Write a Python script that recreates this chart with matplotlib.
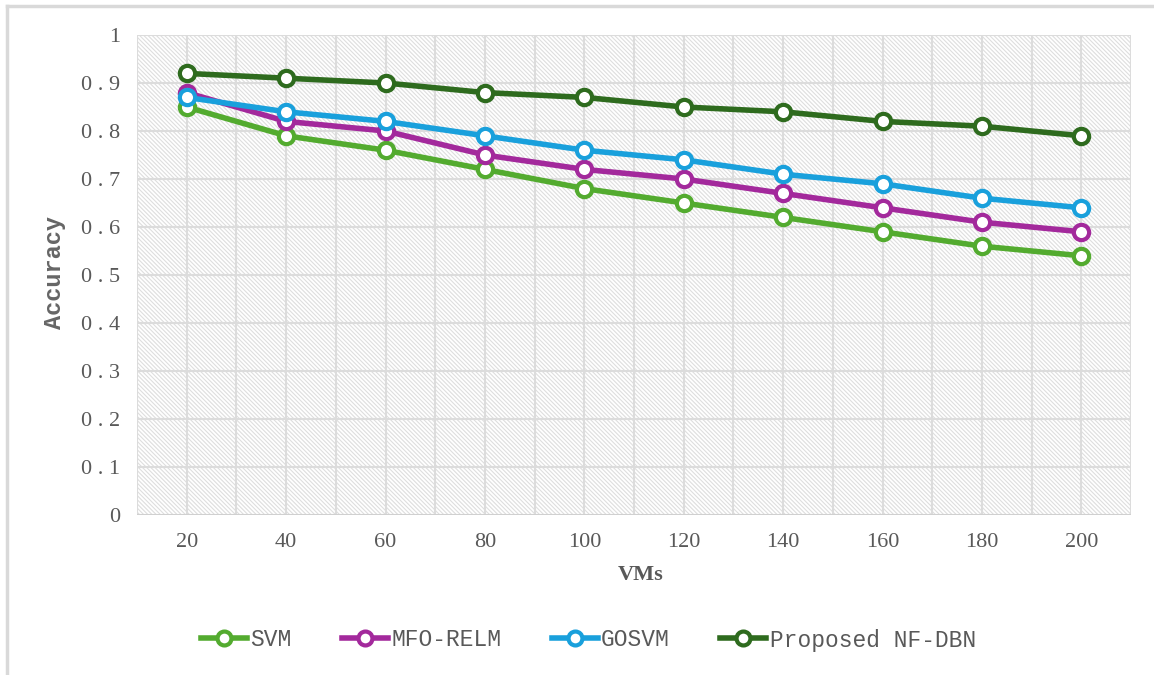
import numpy as np
import matplotlib.pyplot as plt
from matplotlib.patches import Rectangle
from matplotlib.lines import Line2D

# ---------- data ----------
vms = [20, 40, 60, 80, 100, 120, 140, 160, 180, 200]
svm = [0.85, 0.79, 0.76, 0.72, 0.68, 0.65, 0.62, 0.59, 0.56, 0.54]
mfo_relm = [0.88, 0.82, 0.80, 0.75, 0.72, 0.70, 0.67, 0.64, 0.61, 0.59]
gosvm = [0.87, 0.84, 0.82, 0.79, 0.76, 0.74, 0.71, 0.69, 0.66, 0.64]
nf_dbn = [0.92, 0.91, 0.90, 0.88, 0.87, 0.85, 0.84, 0.82, 0.81, 0.79]
series_names = ["SVM", "MFO-RELM", "GOSVM", "Proposed NF-DBN"]
y_ticks = [0, 0.1, 0.2, 0.3, 0.4, 0.5, 0.6, 0.7, 0.8, 0.9, 1]

colors = ["#53ab2f", "#a3299c", "#19a0dc", "#2e6b1e"]
GRID = "#dcdcdc"
TEXT = "#595959"
SERIF = ["Liberation Serif", "DejaVu Serif"]
MONO = ["Liberation Mono", "DejaVu Sans Mono"]

plt.rcParams["hatch.linewidth"] = 0.8
plt.rcParams["hatch.color"] = "#dedede"

fig = plt.figure(figsize=(11.54, 6.75), dpi=100)
ax = fig.add_axes([137 / 1154, 1 - 515 / 675, (1131 - 137) / 1154, (515 - 35) / 675])

x = np.arange(1, len(vms) + 1)

# hatched plot-area background
ax.add_patch(Rectangle((0.5, 0), 10, 1, facecolor="white", edgecolor="#dedede",
                       hatch="\\" * 8, linewidth=0, zorder=0))

ax.set_xlim(0.5, 10.5)
ax.set_ylim(0, 1)

# gridlines: horizontal every 0.1, vertical at centres and boundaries
for yv in y_ticks[1:]:
    ax.axhline(yv, color=GRID, lw=1.5, zorder=1)
for xv in np.arange(0.5, 10.6, 0.5):
    ax.axvline(xv, color=GRID, lw=1.5, zorder=1)
ax.axhline(0, color="#d0d0d0", lw=2.2, zorder=2)

for vals, c in zip([svm, mfo_relm, gosvm, nf_dbn], colors):
    ax.plot(x, vals, color=c, lw=4, marker="o", ms=11, mfc="white",
            mec=c, mew=3, zorder=3, clip_on=False)

for s in ax.spines.values():
    s.set_visible(False)

ax.set_xticks(x)
ax.set_xticklabels([str(v) for v in vms], family=SERIF, fontsize=16, color=TEXT)
ax.set_yticks(y_ticks)
ax.set_yticklabels([" . ".join(f"{v:g}".split(".")) for v in y_ticks],
                   family=SERIF, fontsize=16, color=TEXT)
ax.tick_params(length=0, pad=12)
ax.tick_params(axis="x", pad=13)

fig.text(55 / 1154, 1 - 273 / 675, "Accuracy", rotation=90, ha="center", va="center",
         family=MONO, fontweight="bold", fontsize=17, color="#666666")
fig.text(641 / 1154, 1 - 575 / 675, "VMs", ha="center", va="center",
         family=SERIF, fontweight="bold", fontsize=16, color=TEXT)

handles = [Line2D([], [], color=c, lw=4, marker="o", ms=10, mfc="white", mec=c, mew=3)
           for c in colors]
leg = fig.legend(handles, series_names, loc="center", bbox_to_anchor=(0.51, 1 - 640 / 675),
                 ncol=4, frameon=False, handlelength=2.0, handletextpad=0.15,
                 columnspacing=2.2, prop={"family": MONO, "size": 16.5})
for t in leg.get_texts():
    t.set_color(TEXT)

# outer frame (top and left edges)
fig.add_artist(Line2D([7 / 1154, 7 / 1154], [0, 1 - 6 / 675], transform=fig.transFigure,
                      color="#d9d9d9", lw=2.5))
fig.add_artist(Line2D([7 / 1154, 1], [1 - 6 / 675, 1 - 6 / 675], transform=fig.transFigure,
                      color="#d9d9d9", lw=2.5))

fig.savefig("out.png", dpi=100)
